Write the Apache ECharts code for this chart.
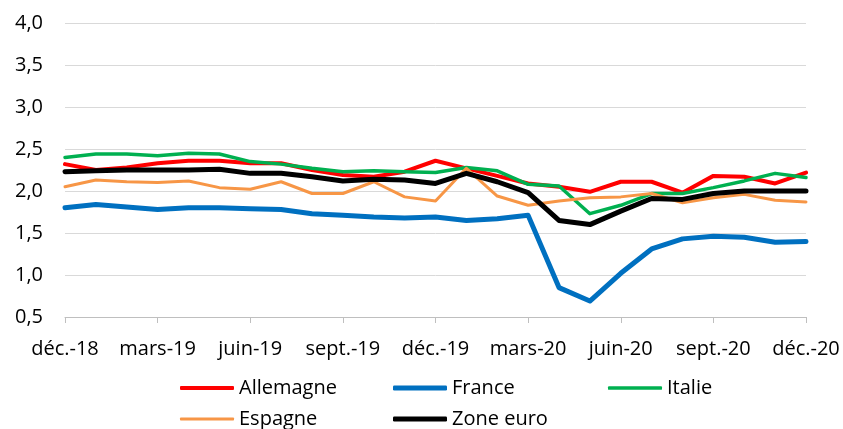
<!DOCTYPE html>
<html>
<head>
<meta charset="utf-8">
<script src="https://cdn.jsdelivr.net/npm/echarts@6/dist/echarts.min.js"></script>
<style>
  html, body { margin: 0; padding: 0; background: #fff; }
  #chart { width: 843px; height: 429px; }
</style>
</head>
<body>
<div id="chart"></div>
<script>
var months = ['déc.-18', 'janv.-19', 'févr.-19', 'mars-19', 'avr.-19', 'mai-19', 'juin-19',
  'juil.-19', 'août-19', 'sept.-19', 'oct.-19', 'nov.-19', 'déc.-19', 'janv.-20', 'févr.-20',
  'mars-20', 'avr.-20', 'mai-20', 'juin-20', 'juil.-20', 'août-20', 'sept.-20', 'oct.-20',
  'nov.-20', 'déc.-20'];

var allemagne = [2.32, 2.25, 2.28, 2.33, 2.36, 2.36, 2.33, 2.33, 2.25, 2.19, 2.17, 2.23, 2.36,
  2.27, 2.18, 2.09, 2.05, 1.99, 2.11, 2.11, 1.98, 2.18, 2.17, 2.09, 2.22];
var france = [1.80, 1.84, 1.81, 1.78, 1.80, 1.80, 1.79, 1.78, 1.73, 1.71, 1.69, 1.68, 1.69,
  1.65, 1.67, 1.71, 0.85, 0.69, 1.02, 1.31, 1.43, 1.46, 1.45, 1.39, 1.40];
var italie = [2.40, 2.44, 2.44, 2.42, 2.45, 2.44, 2.35, 2.32, 2.27, 2.23, 2.24, 2.23, 2.22,
  2.28, 2.24, 2.08, 2.06, 1.73, 1.83, 1.97, 1.97, 2.04, 2.12, 2.21, 2.16];
var espagne = [2.05, 2.13, 2.11, 2.10, 2.12, 2.04, 2.02, 2.11, 1.97, 1.97, 2.11, 1.93, 1.88,
  2.27, 1.94, 1.83, 1.88, 1.92, 1.93, 1.97, 1.86, 1.92, 1.96, 1.89, 1.87];
var zoneEuro = [2.23, 2.24, 2.25, 2.25, 2.25, 2.26, 2.21, 2.21, 2.17, 2.12, 2.14, 2.13, 2.09,
  2.21, 2.11, 1.98, 1.65, 1.60, 1.76, 1.91, 1.90, 1.97, 2.00, 2.00, 2.00];

var names = ['Allemagne', 'France', 'Italie', 'Espagne', 'Zone euro'];
var values = [allemagne, france, italie, espagne, zoneEuro];
var colors = ['#ff0000', '#0070c0', '#00b050', '#f79646', '#000000'];
var widths = [4, 5, 3.5, 3, 5];
// legend slots: [left, top]
var slots = [[180, 378], [393, 378], [608, 378], [180, 409], [393, 409]];

var font = '"Open Sans", "Liberation Sans", sans-serif';

var chart = echarts.init(document.getElementById('chart'), null, { renderer: 'canvas' });

var legends = names.map(function (name, i) {
  return {
    data: [name],
    left: slots[i][0],
    top: slots[i][1],
    icon: 'roundRect',
    itemWidth: 54,
    itemHeight: widths[i],
    itemGap: 0,
    padding: 0,
    selectedMode: false,
    textStyle: { fontFamily: font, fontSize: 20, color: '#000' }
  };
});

var series = names.map(function (name, i) {
  return {
    name: name,
    type: 'line',
    data: values[i],
    symbol: 'none',
    color: colors[i],
    lineStyle: { width: widths[i], color: colors[i], cap: 'round', join: 'round' },
    animation: false
  };
});

chart.setOption({
  animation: false,
  legend: legends,
  grid: { left: 65, right: 37, top: 23, bottom: 112, containLabel: false },
  xAxis: {
    type: 'category',
    data: months,
    boundaryGap: false,
    axisLine: { lineStyle: { color: '#bfbfbf', width: 1 } },
    axisTick: { show: true, interval: 2, length: 6, lineStyle: { color: '#bfbfbf' } },
    axisLabel: {
      interval: 2, margin: 22, color: '#000',
      fontFamily: font, fontSize: 20
    },
    splitLine: { show: false }
  },
  yAxis: {
    type: 'value',
    min: 0.5,
    max: 4,
    interval: 0.5,
    axisLine: { show: false },
    axisTick: { show: false },
    axisLabel: {
      margin: 22, color: '#000', fontFamily: font, fontSize: 20,
      formatter: function (v) { return v.toFixed(1).replace('.', ','); }
    },
    splitLine: { lineStyle: { color: '#d9d9d9', width: 1 } }
  },
  series: series
});
</script>
</body>
</html>
